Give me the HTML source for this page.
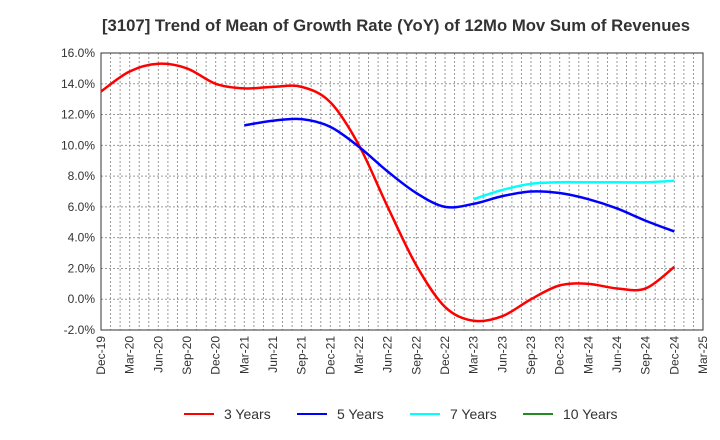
<!DOCTYPE html>
<html><head><meta charset="utf-8"><style>
body{margin:0;background:#fff;font-family:"Liberation Sans",sans-serif}
svg{display:block}
</style></head><body>
<svg id="c" width="720" height="440">
<text x="102" y="31" font-size="17" font-weight="bold" fill="#333" textLength="588" lengthAdjust="spacingAndGlyphs">[3107]  Trend of Mean of Growth Rate (YoY) of 12Mo Mov Sum of Revenues</text>
<g id="grid"></g><g id="axes"></g><g id="series"></g><g id="legend"></g>
</svg>
<script>
const xLabels=["Dec-19","Mar-20","Jun-20","Sep-20","Dec-20","Mar-21","Jun-21","Sep-21","Dec-21","Mar-22","Jun-22","Sep-22","Dec-22","Mar-23","Jun-23","Sep-23","Dec-23","Mar-24","Jun-24","Sep-24","Dec-24","Mar-25"];
const yTicks=[-2,0,2,4,6,8,10,12,14,16];
const s3=[13.5,14.8,15.3,15.0,14.0,13.7,13.8,13.8,12.8,10.0,6.0,2.2,-0.5,-1.4,-1.1,0.0,0.9,1.0,0.7,0.7,2.1];
const s5=[null,null,null,null,null,11.3,11.6,11.7,11.2,9.9,8.3,6.9,6.0,6.2,6.7,7.0,6.9,6.5,5.9,5.1,4.4];
const s7=[null,null,null,null,null,null,null,null,null,null,null,null,null,6.5,7.1,7.5,7.6,7.6,7.6,7.6,7.7];
const s10=[];
const L=101,R=703,T=53,B=330;
const NS="http://www.w3.org/2000/svg";
const X=i=>L+i*(R-L)/(xLabels.length-1);
const Y=v=>B-(v+2)*(B-T)/18;
function mk(p,t,a){const e=document.createElementNS(NS,t);for(const k in a)e.setAttribute(k,a[k]);p.appendChild(e);return e;}
const g=document.getElementById('grid'),ax=document.getElementById('axes'),se=document.getElementById('series'),lg=document.getElementById('legend');
for(let m=1;m<(xLabels.length-1)*3;m++){const x=L+m*(R-L)/((xLabels.length-1)*3);
const l=mk(g,'line',{x1:x,x2:x,y1:T,y2:B,stroke:'#999','stroke-dasharray':'2,2','stroke-width':1});

}
yTicks.forEach(v=>{const y=Y(v);
const l=mk(g,'line',{x1:L,x2:R,y1:y,y2:y,stroke:'#999','stroke-dasharray':'2,2','stroke-width':1});


const t=mk(ax,'text',{x:L-6,y:y+4,'text-anchor':'end','font-size':12,fill:'#333'});t.textContent=v.toFixed(1)+'%';

});
const fr=mk(ax,'rect',{x:L,y:T,width:R-L,height:B-T,fill:'none',stroke:'#333','stroke-width':1});


xLabels.forEach((s,i)=>{const x=X(i);
const t=mk(ax,'text',{x:0,y:0,'text-anchor':'end','font-size':12,fill:'#333',transform:`translate(${x+4},${B+6}) rotate(-90)`});t.textContent=s;

});
function path(arr){const p=[];arr.forEach((v,i)=>{if(v!=null)p.push([X(i),Y(v)]);});if(p.length<2)return '';
let d=`M${p[0][0]},${p[0][1]}`;
for(let i=0;i<p.length-1;i++){const p0=p[Math.max(0,i-1)],p1=p[i],p2=p[i+1],p3=p[Math.min(p.length-1,i+2)];
d+=` C${p1[0]+(p2[0]-p0[0])/6},${p1[1]+(p2[1]-p0[1])/6} ${p2[0]-(p3[0]-p1[0])/6},${p2[1]-(p3[1]-p1[1])/6} ${p2[0]},${p2[1]}`;}
return d;}
const series=[["3 Years",s3,"#ff0000"],["5 Years",s5,"#0000ff"],["7 Years",s7,"#00ffff"],["10 Years",s10,"#228b22"]];
series.forEach(([n,a,c],k)=>{
const d=path(a);if(d){const p=mk(se,'path',{d:d,fill:'none',stroke:c,'stroke-width':2.5});

}
const lx=184+k*113;
const ll=mk(lg,'line',{x1:lx,x2:lx+30,y1:414,y2:414,stroke:c,'stroke-width':2});


const t=mk(lg,'text',{x:lx+40,y:419,'font-size':14,fill:'#333'});t.textContent=n;

});
</script>
</body></html>
